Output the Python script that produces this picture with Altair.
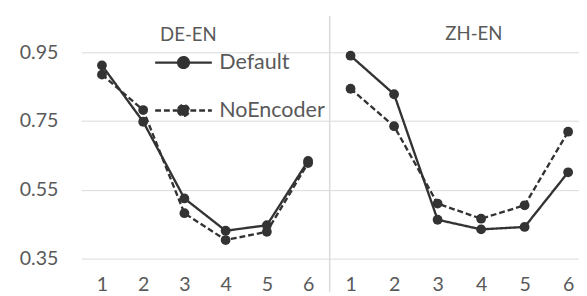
import altair as alt
import pandas as pd

steps = [1, 2, 3, 4, 5, 6]
series = ["Default", "NoEncoder"]
de_default = [0.912, 0.748, 0.525, 0.431, 0.447, 0.634]
de_noenc = [0.885, 0.782, 0.482, 0.404, 0.428, 0.628]
zh_default = [0.940, 0.828, 0.463, 0.435, 0.442, 0.601]
zh_noenc = [0.844, 0.735, 0.510, 0.466, 0.505, 0.719]
y_ticks = [0.35, 0.55, 0.75, 0.95]

def frame(panel, a, b):
    rows = []
    for s, vals in zip(series, [a, b]):
        for x, v in zip(steps, vals):
            rows.append({"panel": panel, "step": x, "series": s, "value": v})
    return pd.DataFrame(rows)

de = frame("DE-EN", de_default, de_noenc)
zh = frame("ZH-EN", zh_default, zh_noenc)

FONT = "Lato"
TXT = "#595959"
INK = "#333333"
GRID = "#d9d9d9"
H = 211

dash_scale = alt.Scale(domain=series, range=[[1, 0], [6, 3]])
sym_path = "M-2.9,0L2.9,0M-0.55,0A0.55,0.55,0,1,0,0.55,0A0.55,0.55,0,1,0,-0.55,0Z"

def panel(df, title, width, xdomain, show_y, dx, offset, legend):
    y_axis = alt.Axis(values=y_ticks, format=".2f", grid=True, gridColor=GRID,
                      domain=False, ticks=False, labels=show_y, labelPadding=24,
                      labelFontSize=20, labelFont=FONT, labelColor=TXT, title=None)
    x_axis = alt.Axis(values=steps, format="d", grid=False, domain=False, ticks=False,
                      labelPadding=17, labelFontSize=20, labelFont=FONT,
                      labelColor=TXT, title=None)
    x = alt.X("step:Q", scale=alt.Scale(domain=xdomain, nice=False, zero=False), axis=x_axis)
    y = alt.Y("value:Q", scale=alt.Scale(domain=[0.35, 0.95], nice=False, zero=False), axis=y_axis)
    if legend:
        leg = alt.Legend(orient="none", legendX=93, legendY=-1, title=None,
                         symbolType=sym_path, symbolSize=400, symbolStrokeWidth=2.4,
                         symbolStrokeColor=INK, symbolFillColor=INK,
                         labelFontSize=22, labelFont=FONT, labelColor=TXT,
                         labelOffset=25, rowPadding=26, padding=0)
    else:
        leg = None
    dash = alt.StrokeDash("series:N", scale=dash_scale, legend=leg)
    base = alt.Chart(df)
    line = base.mark_line(color=INK, strokeWidth=2.4).encode(x=x, y=y, strokeDash=dash, detail="series:N")
    pts = base.mark_point(filled=True, color=INK, size=100, opacity=1).encode(x=x, y=y, detail="series:N")
    layers = [line, pts]
    if not show_y:
        rule = alt.Chart(alt.Data(values=[{}])).mark_rule(color=GRID, strokeWidth=1.5).encode(
            x=alt.value(0), y=alt.value(-37), y2=alt.value(245))
        layers = [rule, line, pts]
    return alt.layer(*layers).properties(
        width=width, height=H,
        title=alt.Title(title, anchor="middle", dx=dx, offset=offset, fontSize=19,
                        font=FONT, color=TXT, fontWeight="normal"))

left = panel(de, "DE-EN", 253, [0.5, 6.5], True, -17, -2, True)
right = panel(zh, "ZH-EN", 255, [0.52, 6.25], False, 20, -29, False)

chart = alt.hconcat(left, right, spacing=0).resolve_scale(
    strokeDash="independent", x="independent").properties(
    padding={"left": 11, "top": 4, "right": 0, "bottom": 0}
).configure_view(stroke=None)

chart.save("out.html", embed_options={"renderer": "svg", "actions": False})
